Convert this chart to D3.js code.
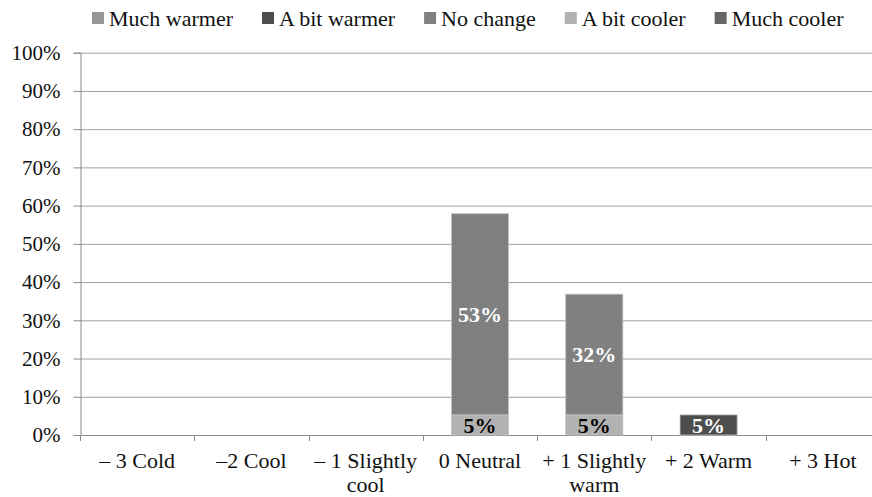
<!DOCTYPE html>
<html>
<head>
<meta charset="utf-8">
<script src="https://cdn.jsdelivr.net/npm/d3@7"></script>
<style>
  html, body { margin: 0; padding: 0; background: #fff; }
  svg { display: block; }
</style>
</head>
<body>
<svg id="chart" width="872" height="497"></svg>
<script>
// Thermal sensation categories (x axis)
const categories = ["– 3 Cold", "–2 Cool", "– 1 Slightly cool", "0 Neutral", "+ 1 Slightly warm", "+ 2 Warm", "+ 3 Hot"];

// Thermal preference series, in legend order
const seriesNames = ["Much warmer", "A bit warmer", "No change", "A bit cooler", "Much cooler"];
const seriesColors = ["#969696", "#4d4d4d", "#808080", "#b2b2b2", "#666666"];

// Share of votes per category (fractions)
const muchWarmer  = [0, 0, 0, 0,      0,      0,      0];
const aBitWarmer  = [0, 0, 0, 0,      0,      0.0526, 0];
const noChange    = [0, 0, 0, 0.5263, 0.3158, 0,      0];
const aBitCooler  = [0, 0, 0, 0.0526, 0.0526, 0,      0];
const muchCooler  = [0, 0, 0, 0,      0,      0,      0];

const yTicks = [0, 0.1, 0.2, 0.3, 0.4, 0.5, 0.6, 0.7, 0.8, 0.9, 1.0];

const seriesValues = [muchWarmer, aBitWarmer, noChange, aBitCooler, muchCooler];
// Stacking from the bottom: Much cooler first, Much warmer on top
const stackOrder = [4, 3, 2, 1, 0];

const FONT = "'Liberation Serif', 'Times New Roman', serif";

const rows = categories.map((c, i) => {
  const r = { category: c };
  seriesNames.forEach((s, k) => { r[s] = seriesValues[k][i]; });
  return r;
});

const svg = d3.select("#chart");
const plotLeft = 80, plotRight = 880, plotTop = 52.7, plotBottom = 435;

const x = d3.scaleBand().domain(categories).range([plotLeft, plotRight]).paddingInner(0.5).paddingOuter(0.25);
const y = d3.scaleLinear().domain([0, 1]).range([plotBottom, plotTop]);

// Horizontal gridlines
svg.append("g").selectAll("line").data(yTicks.filter(d => d > 0)).join("line")
  .attr("x1", plotLeft).attr("x2", plotRight)
  .attr("y1", d => y(d) + 0.5).attr("y2", d => y(d) + 0.5)
  .attr("stroke", "#a0a0a0").attr("stroke-width", 1);

// Y axis
const yAxis = svg.append("g").attr("transform", `translate(${plotLeft + 0.5},0)`)
  .call(d3.axisLeft(y).tickValues(yTicks).tickFormat(d3.format(".0%")).tickSize(7).tickPadding(13));
yAxis.select(".domain").attr("stroke", "#8c8c8c");
yAxis.selectAll(".tick line").attr("stroke", "#8c8c8c");
yAxis.selectAll("text").style("font-family", FONT).style("font-size", "21px").attr("fill", "#111");

// X axis with ticks at band boundaries
const xAxisG = svg.append("g");
xAxisG.append("line").attr("x1", plotLeft).attr("x2", plotRight)
  .attr("y1", plotBottom + 0.5).attr("y2", plotBottom + 0.5)
  .attr("stroke", "#8c8c8c");
const boundaries = d3.range(categories.length + 1).map(i => plotLeft + i * x.step());
xAxisG.selectAll("line.tk").data(boundaries).join("line").attr("class", "tk")
  .attr("x1", d => Math.round(d) + 0.5).attr("x2", d => Math.round(d) + 0.5)
  .attr("y1", plotBottom).attr("y2", plotBottom + 6)
  .attr("stroke", "#8c8c8c");

// Category labels, word-wrapped to the band step
const catLabels = xAxisG.selectAll("text.cat").data(categories).join("text").attr("class", "cat")
  .attr("text-anchor", "middle").style("font-family", FONT).style("font-size", "22px").attr("fill", "#111")
  .attr("x", d => x(d) + x.bandwidth() / 2).attr("y", 468);
catLabels.each(function(d) {
  const t = d3.select(this);
  const words = d.split(" ");
  const cx = x(d) + x.bandwidth() / 2;
  let line = [];
  let tspan = t.append("tspan").attr("x", cx).attr("dy", 0);
  words.forEach(w => {
    line.push(w);
    tspan.text(line.join(" "));
    if (tspan.node().getComputedTextLength() > x.step() - 4 && line.length > 1) {
      line.pop();
      tspan.text(line.join(" "));
      line = [w];
      tspan = t.append("tspan").attr("x", cx).attr("dy", 24).text(w);
    }
  });
});

// Stacked bars
const stack = d3.stack().keys(stackOrder.map(k => seriesNames[k]));
const layers = stack(rows);
const colorOf = d3.scaleOrdinal().domain(seriesNames).range(seriesColors);

const barG = svg.append("g");
layers.forEach(layer => {
  barG.append("g").selectAll("rect").data(layer.filter(d => d[1] - d[0] > 0)).join("rect")
    .attr("x", d => x(d.data.category))
    .attr("width", x.bandwidth())
    .attr("y", d => y(d[1]))
    .attr("height", d => y(d[0]) - y(d[1]))
    .attr("fill", colorOf(layer.key))
    .attr("stroke", "#c4c4c4").attr("stroke-width", 0.8);
});

// Value labels
const fmt = d3.format(".0%");
layers.forEach(layer => {
  const light = layer.key === "A bit cooler" || layer.key === "Much warmer";
  barG.append("g").selectAll("text").data(layer.filter(d => d[1] - d[0] > 0)).join("text")
    .attr("x", d => x(d.data.category) + x.bandwidth() / 2)
    .attr("y", d => (y(d[0]) + y(d[1])) / 2)
    .attr("dy", "0.36em")
    .attr("text-anchor", "middle")
    .style("font-family", FONT).style("font-size", "22px").style("font-weight", "bold")
    .attr("fill", light ? "#000" : "#fff")
    .text(d => fmt(d[1] - d[0]));
});

// Legend
const legend = svg.append("g");
let lx = 92;
seriesNames.forEach((s, k) => {
  legend.append("rect").attr("x", lx).attr("y", 12).attr("width", 12).attr("height", 12)
    .attr("fill", seriesColors[k]);
  const t = legend.append("text").attr("x", lx + 17).attr("y", 26)
    .style("font-family", FONT).style("font-size", "22px").attr("fill", "#111").text(s);
  lx += 17 + t.node().getComputedTextLength() + 29;
});
</script>
</body>
</html>
